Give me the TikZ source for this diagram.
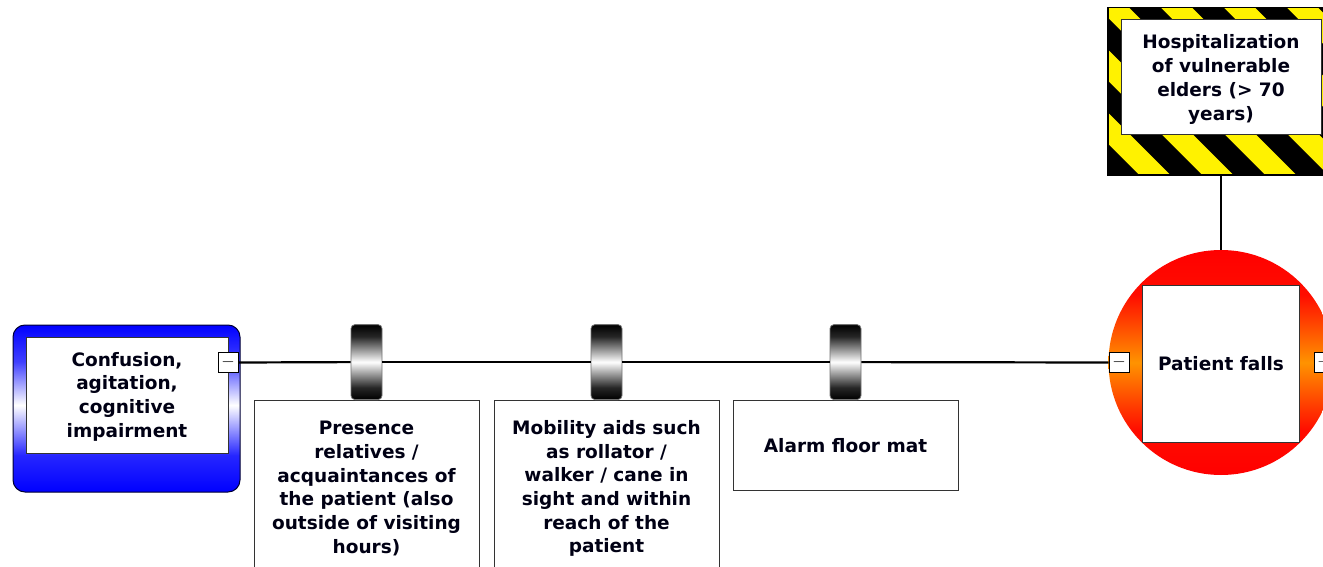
\documentclass[tikz,border=0pt]{standalone}
\usepackage{fontspec}
\setmainfont{DejaVu Sans}
% vertical blends (0bp = bottom, path mapped onto 25bp..75bp)
\pgfdeclareverticalshading{barrel}{100bp}{color(0bp)=(black); color(25bp)=(black); color(33bp)=(black!85); color(50bp)=(white); color(67bp)=(black!85); color(75bp)=(black); color(100bp)=(black)}
\pgfdeclareverticalshading{causeblend}{100bp}{color(0bp)=(blue); color(25bp)=(blue); color(36bp)=(blue!85!white); color(51bp)=(white); color(64bp)=(blue!75!white); color(75bp)=(blue); color(100bp)=(blue)}
\pgfdeclareverticalshading{eventblend}{100bp}{color(0bp)=(red); color(25bp)=(red); color(35bp)=(red!90!orange); color(50bp)=(orange!85!yellow); color(65bp)=(red!90!orange); color(75bp)=(red); color(100bp)=(red)}
\begin{document}
\begin{tikzpicture}[x=1pt,y=-1pt,
  lbl/.style={font=\fontsize{18.5}{23.7}\selectfont\bfseries, text=black!92!blue, align=center, inner sep=0pt},
  textbox/.style={lbl, rectangle, draw=black!80, line width=1pt, fill=white},
  barrierbox/.style={textbox, anchor=north, minimum width=225, minimum height=#1},
  barrel/.style={rectangle, draw=black!55, line width=0.8pt, rounded corners=4pt, shading=barrel, minimum width=31, minimum height=75, inner sep=0pt, anchor=south},
  toggle/.style={rectangle, draw=black, line width=0.8pt, fill=white, minimum width=20, minimum height=20, inner sep=0pt, font=\fontsize{17}{17}\selectfont},
  conn/.style={draw=black, line width=2.2pt}]
\clip (0,0) rectangle (1323,567);
\fill[white] (0,0) rectangle (1323,567);

% hazard with striped frame
\node[rectangle, draw=black, line width=1pt, fill=yellow, minimum width=226, minimum height=167, inner sep=0pt] (haz) at (1221,91.5) {};
\begin{scope}
  \clip (haz.north west) rectangle (haz.south east);
  \foreach \k in {-4,...,3}
    \fill[black] ({1192.5+63*\k},8) -- ++(31.5,0) -- ++(167,167) -- ++(-31.5,0) -- cycle;
\end{scope}
\draw[black, line width=1pt] (haz.north west) rectangle (haz.south east);
\node[textbox, minimum width=200, minimum height=115] (hazt) at (1221,77.5) {};
\node[lbl] (hazl) at (1221,79.5) {Hospitalization\\of vulnerable\\elders (> 70\\years)};

% top event
\node[circle, shading=eventblend, minimum size=225, inner sep=0pt] (top) at (1221,362.5) {};
\node[textbox, minimum width=157, minimum height=157] (topt) at (1221,363.5) {Patient falls};
\node[toggle] (tm) at (1119,362.5) {$-$};
\node[toggle] (tp) at (1324,362.5) {$+$};

% threat
\node[rectangle, rounded corners=12pt, draw=black!80!blue, line width=1pt, shading=causeblend, minimum width=227, minimum height=167, inner sep=0pt] (cause) at (126.5,408.5) {};
\node[textbox, minimum width=202, minimum height=116] (causet) at (127,395) {};
\node[lbl] (causel) at (127,396.5) {Confusion,\\agitation,\\cognitive\\impairment};
\node[toggle] (cm) at (228,362.5) {$-$};

% barriers
\node[barrierbox=176] (b1box) at (366.5,400)
  {Presence\\relatives /\\acquaintances of\\the patient (also\\outside of visiting\\hours)};
\node[barrierbox=176] (b2box) at (606.5,400)
  {Mobility aids such\\as rollator /\\walker / cane in\\sight and within\\reach of the\\patient};
\node[barrierbox=90] (b3box) at (845.5,400) {Alarm floor mat};
\node[barrel] (b1) at (b1box.north) {};
\node[barrel] (b2) at (b2box.north) {};
\node[barrel] (b3) at (b3box.north) {};

% connectors
\draw[conn] (cm.east) -- (b1.west);
\draw[conn] (b1.east) -- (b2.west);
\draw[conn] (b2.east) -- (b3.west);
\draw[conn] (b3.east) -- (tm.west);
\draw[conn] (haz.south) -- (top.north);
\end{tikzpicture}
\end{document}
